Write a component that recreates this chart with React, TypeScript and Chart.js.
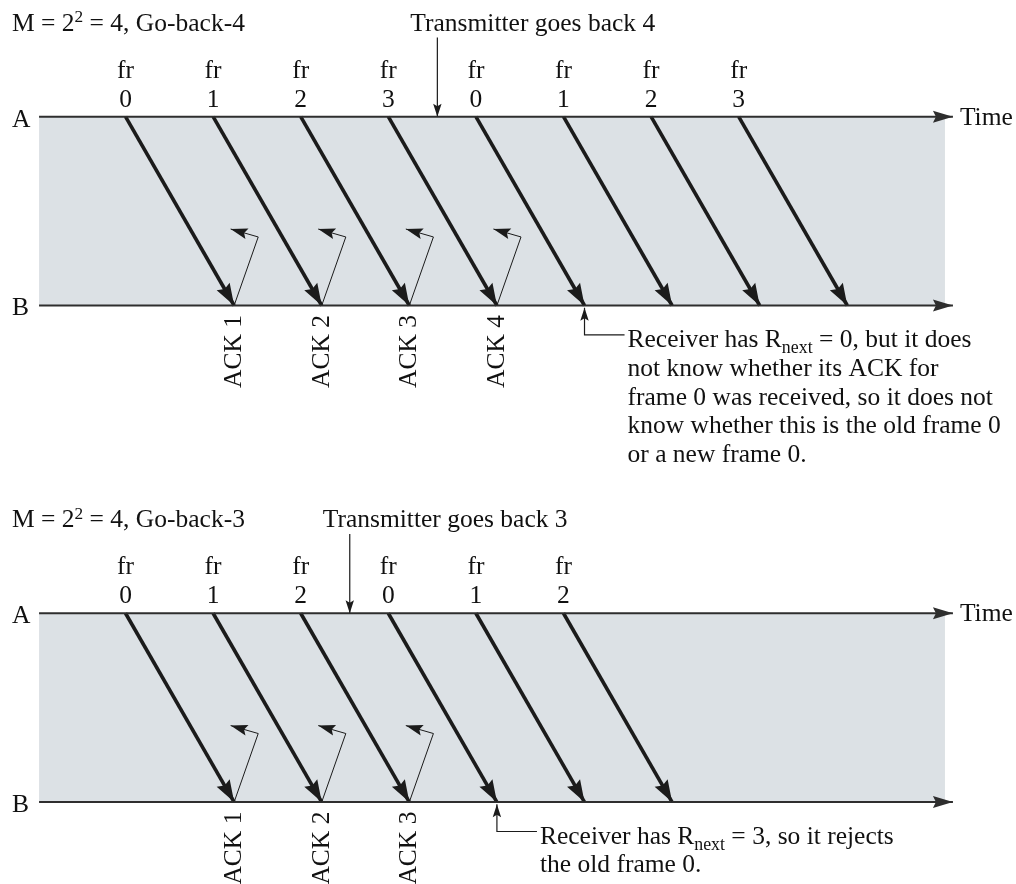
import React, { useEffect, useRef } from "react";
import { Chart, registerables } from "chart.js";

Chart.register(...registerables);

// ---------------- data ----------------
const TOP_TITLE = "M = 2^{2} = 4, Go-back-4";
const BOTTOM_TITLE = "M = 2^{2} = 4, Go-back-3";
const TOP_GOBACK_TEXT = "Transmitter goes back 4";
const BOTTOM_GOBACK_TEXT = "Transmitter goes back 3";

const TOP_SEND_TIMES = [0, 1, 2, 3, 4, 5, 6, 7];
const TOP_FRAME_NUMBERS = ["0", "1", "2", "3", "0", "1", "2", "3"];
const TOP_ACK_LABELS = ["ACK 1", "ACK 2", "ACK 3", "ACK 4"];
const TOP_GOBACK_TIME = 3.56;
const TOP_NOTE_FRAME = 4; // index of the retransmitted frame 0
const TOP_NOTE_LINES = [
  "Receiver has R_{next} = 0, but it does",
  "not know whether its ACK for",
  "frame 0 was received, so it does not",
  "know whether this is the old frame 0",
  "or a new frame 0.",
];

const BOTTOM_SEND_TIMES = [0, 1, 2, 3, 4, 5];
const BOTTOM_FRAME_NUMBERS = ["0", "1", "2", "0", "1", "2"];
const BOTTOM_ACK_LABELS = ["ACK 1", "ACK 2", "ACK 3"];
const BOTTOM_GOBACK_TIME = 2.56;
const BOTTOM_NOTE_FRAME = 3;
const BOTTOM_NOTE_LINES = [
  "Receiver has R_{next} = 3, so it rejects",
  "the old frame 0.",
];

const PROP_DELAY = 1.24; // time units from A to B
const LEVEL_A = 1;
const LEVEL_B = 0;
const PANEL_SHIFTS = [0, -2.63];

// axis extents (time units / level units)
const X_MIN = -1.433;
const X_MAX = 10.166;
const Y_MIN = -3.064;
const Y_MAX = 1.618;
const LINE_START = -0.987;
const LINE_END = 9.446;
const SHADE_END = 9.355;

// ACK stub geometry
const ACK_TURN_DX = 0.275;
const ACK_TURN_DY = 0.363;
const ACK_TIP_DX = -0.04;
const ACK_TIP_DY = 0.405;
const GOBACK_TOP = 0.42;
const LEADER_DY = -0.156;
const LEADER_DX = 0.457;

// ---------------- styles ----------------
const FONT = '"Liberation Serif", "Times New Roman", serif';
const FS = 25.5;
const INK = "#1b1b1b";
const AXIS_INK = "#2e2e2e";
const SHADE = "#dce1e5";

type Arrow = { len: number; half: number; notch: number };
const FRAME_ARROW: Arrow = { len: 22, half: 7.5, notch: 3 };
const ACK_ARROW: Arrow = { len: 17, half: 5.5, notch: 3 };
const AXIS_ARROW: Arrow = { len: 20, half: 6, notch: 3 };
const SMALL_ARROW: Arrow = { len: 13, half: 4.2, notch: 2.5 };

const panels = [
  {
    shift: PANEL_SHIFTS[0],
    title: TOP_TITLE,
    gobackText: TOP_GOBACK_TEXT,
    send: TOP_SEND_TIMES,
    numbers: TOP_FRAME_NUMBERS,
    acks: TOP_ACK_LABELS,
    goback: TOP_GOBACK_TIME,
    noteFrame: TOP_NOTE_FRAME,
    note: TOP_NOTE_LINES,
  },
  {
    shift: PANEL_SHIFTS[1],
    title: BOTTOM_TITLE,
    gobackText: BOTTOM_GOBACK_TEXT,
    send: BOTTOM_SEND_TIMES,
    numbers: BOTTOM_FRAME_NUMBERS,
    acks: BOTTOM_ACK_LABELS,
    goback: BOTTOM_GOBACK_TIME,
    noteFrame: BOTTOM_NOTE_FRAME,
    note: BOTTOM_NOTE_LINES,
  },
];

function line(points: { x: number; y: number }[], width: number, color: string, arrow?: Arrow) {
  return {
    data: points,
    showLine: true,
    borderColor: color,
    backgroundColor: color,
    borderWidth: width,
    pointRadius: 0,
    pointHoverRadius: 0,
    tension: 0,
    borderJoinStyle: "miter" as const,
    arrow,
  };
}

function buildDatasets() {
  const ds: any[] = [];
  panels.forEach((p) => {
    const A = LEVEL_A + p.shift;
    const B = LEVEL_B + p.shift;
    // time axes
    ds.push(line([{ x: LINE_START, y: A }, { x: LINE_END, y: A }], 2, AXIS_INK, AXIS_ARROW));
    ds.push(line([{ x: LINE_START, y: B }, { x: LINE_END, y: B }], 2, AXIS_INK, AXIS_ARROW));
    // frames
    p.send.forEach((t) => {
      ds.push(line([{ x: t, y: A }, { x: t + PROP_DELAY, y: B }], 3.6, INK, FRAME_ARROW));
    });
    // acks
    p.acks.forEach((_, i) => {
      const t = p.send[i] + PROP_DELAY;
      ds.push(
        line(
          [
            { x: t, y: B },
            { x: t + ACK_TURN_DX, y: B + ACK_TURN_DY },
            { x: t + ACK_TIP_DX, y: B + ACK_TIP_DY },
          ],
          1,
          INK,
          ACK_ARROW
        )
      );
    });
    // goback arrow
    ds.push(line([{ x: p.goback, y: A + GOBACK_TOP }, { x: p.goback, y: A }], 1.2, INK, SMALL_ARROW));
    // note leader
    const tn = p.send[p.noteFrame] + PROP_DELAY;
    ds.push(
      line(
        [
          { x: tn + LEADER_DX, y: B + LEADER_DY },
          { x: tn, y: B + LEADER_DY },
          { x: tn, y: B - 0.012 },
        ],
        1.2,
        INK,
        SMALL_ARROW
      )
    );
  });
  return ds;
}

function drawHead(ctx: CanvasRenderingContext2D, fx: number, fy: number, tx: number, ty: number, a: Arrow, color: string) {
  const ang = Math.atan2(ty - fy, tx - fx);
  ctx.save();
  ctx.translate(tx, ty);
  ctx.rotate(ang);
  ctx.beginPath();
  ctx.moveTo(0, 0);
  ctx.lineTo(-a.len, -a.half);
  ctx.lineTo(-a.len + a.notch, 0);
  ctx.lineTo(-a.len, a.half);
  ctx.closePath();
  ctx.fillStyle = color;
  ctx.fill();
  ctx.restore();
}

function drawRich(ctx: CanvasRenderingContext2D, text: string, x: number, y: number, size: number) {
  const parts = text.split(/(_\{[^}]*\}|\^\{[^}]*\})/);
  let cx = x;
  ctx.textAlign = "left";
  ctx.textBaseline = "alphabetic";
  for (const part of parts) {
    if (!part) continue;
    if (part.startsWith("_{")) {
      const s = part.slice(2, -1);
      ctx.font = `${size * 0.7}px ${FONT}`;
      ctx.fillText(s, cx, y + size * 0.24);
      cx += ctx.measureText(s).width;
    } else if (part.startsWith("^{")) {
      const s = part.slice(2, -1);
      ctx.font = `${size * 0.68}px ${FONT}`;
      ctx.fillText(s, cx, y - size * 0.34);
      cx += ctx.measureText(s).width;
    } else {
      ctx.font = `${size}px ${FONT}`;
      ctx.fillText(part, cx, y);
      cx += ctx.measureText(part).width;
    }
  }
}

const diagramPlugin = {
  id: "diagram",
  beforeDatasetsDraw(chart: any) {
    const { ctx, scales } = chart;
    const xs = scales.x;
    const ys = scales.y;
    ctx.save();
    ctx.fillStyle = SHADE;
    panels.forEach((p) => {
      const x0 = xs.getPixelForValue(LINE_START);
      const x1 = xs.getPixelForValue(SHADE_END);
      const y0 = ys.getPixelForValue(LEVEL_A + p.shift);
      const y1 = ys.getPixelForValue(LEVEL_B + p.shift);
      ctx.fillRect(x0, y0, x1 - x0, y1 - y0);
    });
    ctx.restore();
  },
  afterDatasetsDraw(chart: any) {
    const { ctx, scales } = chart;
    const xs = scales.x;
    const ys = scales.y;
    // arrowheads
    chart.data.datasets.forEach((d: any, i: number) => {
      if (!d.arrow) return;
      const pts = chart.getDatasetMeta(i).data;
      const n = pts.length;
      drawHead(ctx, pts[n - 2].x, pts[n - 2].y, pts[n - 1].x, pts[n - 1].y, d.arrow, d.borderColor);
    });
    // texts
    ctx.save();
    ctx.fillStyle = "#111";
    panels.forEach((p) => {
      const yA = ys.getPixelForValue(LEVEL_A + p.shift);
      const yB = ys.getPixelForValue(LEVEL_B + p.shift);
      const xLeft = 12;
      drawRich(ctx, p.title, xLeft, yA - 86, FS);
      const xg = xs.getPixelForValue(p.goback);
      drawRich(ctx, p.gobackText, xg - 27, yA - 86, FS);
      drawRich(ctx, "A", xLeft, yA + 10, FS);
      drawRich(ctx, "B", xLeft, yB + 10, FS);
      drawRich(ctx, "Time", xs.getPixelForValue(LINE_END) + 7, yA + 8, FS);
      ctx.font = `${FS}px ${FONT}`;
      ctx.textAlign = "center";
      p.send.forEach((t, i) => {
        const x = xs.getPixelForValue(t);
        ctx.fillText("fr", x, yA - 39);
        ctx.fillText(p.numbers[i], x, yA - 10);
      });
      p.acks.forEach((label, i) => {
        const x = xs.getPixelForValue(p.send[i] + PROP_DELAY);
        ctx.save();
        ctx.translate(x + 7, yB + 82.5);
        ctx.rotate(-Math.PI / 2);
        ctx.textAlign = "left";
        ctx.textBaseline = "alphabetic";
        ctx.font = `${FS}px ${FONT}`;
        ctx.fillText(label, 0, 0);
        ctx.restore();
      });
      const xn = xs.getPixelForValue(p.send[p.noteFrame] + PROP_DELAY);
      p.note.forEach((ln, i) => {
        drawRich(ctx, ln, xn + 43, yB + 41.5 + i * 28.8, FS);
      });
    });
    ctx.restore();
  },
};

export default function App() {
  const ref = useRef<HTMLCanvasElement | null>(null);
  useEffect(() => {
    document.body.style.margin = "0";
    const canvas = ref.current;
    if (!canvas) return;
    const chart = new Chart(canvas, {
      type: "scatter",
      data: { datasets: buildDatasets() },
      options: {
        animation: false,
        responsive: false,
        events: [],
        layout: { padding: 0 },
        plugins: { legend: { display: false }, tooltip: { enabled: false }, title: { display: false } },
        scales: {
          x: { type: "linear", min: X_MIN, max: X_MAX, display: false },
          y: { type: "linear", min: Y_MIN, max: Y_MAX, display: false },
        },
      },
      plugins: [diagramPlugin],
    });
    return () => chart.destroy();
  }, []);
  return (
    <div style={{ width: 1016, height: 884, background: "#fff" }}>
      <canvas ref={ref} width={1016} height={884} style={{ display: "block", width: 1016, height: 884 }} />
    </div>
  );
}
